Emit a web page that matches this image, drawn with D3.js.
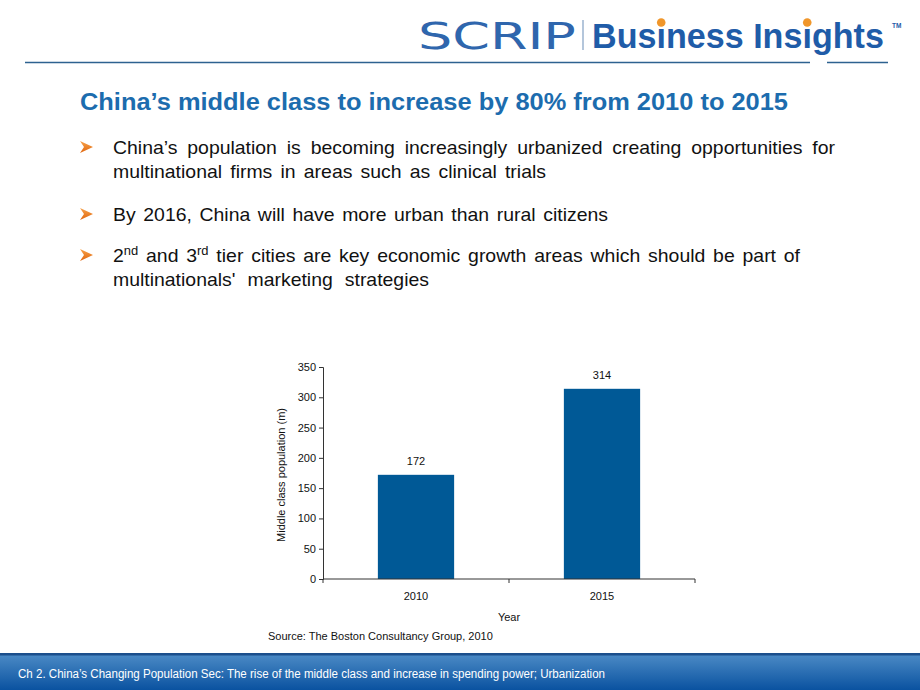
<!DOCTYPE html>
<html>
<head>
<meta charset="utf-8">
<script src="https://cdn.jsdelivr.net/npm/d3@7"></script>
<style>
  body { margin: 0; background: #fff; }
  svg { display: block; font-family: "Liberation Sans", Arial, sans-serif; }
</style>
</head>
<body>
<svg id="slide" width="920" height="690"></svg>
<script>
// chart data
const years = ['2010', '2015']
const population = [172, 314]
const yTicks = [0, 50, 100, 150, 200, 250, 300, 350]

const title = 'China\u2019s middle class to increase by 80% from 2010 to 2015'
const bullets = [
  ['China\u2019s population is becoming increasingly urbanized creating opportunities for',
   'multinational firms in areas such as clinical trials'],
  ['By 2016, China will have more urban than rural citizens'],
  ['2|nd| and 3|rd| tier cities are key economic growth areas which should be part of',
   'multinationals\' marketing strategies']
]
const source = 'Source: The Boston Consultancy Group, 2010'
const footer = 'Ch 2. China\u2019s Changing Population Sec: The rise of the middle class and increase in spending power; Urbanization'

const svg = d3.select('#slide')
const defs = svg.append('defs')

// squeeze/stretch a text to a given width with a transform (keeps bbox honest)
function fitText(sel, x0, y0, targetW) {
  const w = sel.node().getComputedTextLength()
  sel.attr('transform', `translate(${x0},${y0}) scale(${targetW / w},1)`)
  return sel
}

// ---- header / logo
fitText(svg.append('text')
  .style('font-family', '"DejaVu Sans", sans-serif')
  .style('font-size', '37px')
  .style('fill', '#2f66ad')
  .text('SCRIP'), 418, 49, 158)

svg.append('line')
  .attr('x1', 583).attr('x2', 583).attr('y1', 20).attr('y2', 50)
  .style('stroke', '#9bb3cf').style('stroke-width', 1.5)

const bi = fitText(svg.append('text')
  .style('font-size', '36px')
  .style('font-weight', 'bold')
  .style('fill', '#1f5ca8')
  .text('Business Insights'), 592, 48, 292)

// orange dots on the i's
const biNode = bi.node()
const biScale = 292 / biNode.getComputedTextLength()
;[3, 12].forEach(i => {
  const cx = biNode.getSubStringLength(0, i) + biNode.getSubStringLength(i, 1) / 2
  svg.append('circle')
    .attr('cx', 592 + cx * biScale)
    .attr('cy', 22.5)
    .attr('r', 4.3)
    .style('fill', '#f0962a')
})

svg.append('text')
  .attr('x', 892).attr('y', 28)
  .style('font-size', '6.5px').style('font-weight', 'bold')
  .style('fill', '#1f5ca8')
  .text('TM')

svg.append('line')
  .attr('x1', 25).attr('x2', 810).attr('y1', 62.5).attr('y2', 62.5)
  .style('stroke', '#2d6290').style('stroke-width', 1.3)
svg.append('line')
  .attr('x1', 827).attr('x2', 888).attr('y1', 62.5).attr('y2', 62.5)
  .style('stroke', '#2d6290').style('stroke-width', 1.3)

// ---- title
svg.append('text')
  .attr('x', 80).attr('y', 110)
  .attr('textLength', 708).attr('lengthAdjust', 'spacingAndGlyphs')
  .style('font-size', '23px')
  .style('font-weight', 'bold')
  .style('fill', '#1c6cae')
  .text(title)

// ---- bullets
const arrowGrad = defs.append('linearGradient')
  .attr('id', 'arrow-grad').attr('x1', '0%').attr('y1', '0%').attr('x2', '0%').attr('y2', '100%')
arrowGrad.append('stop').attr('offset', '0%').attr('stop-color', '#f7a24a')
arrowGrad.append('stop').attr('offset', '100%').attr('stop-color', '#e0660e')

const lineY = [[154, 178], [221], [262, 286]]
const lineEnd = [[835, 546], [608], [800, 429]]
const glyphScale = 1.08 // slide font renders a little wider than Liberation

bullets.forEach((lines, bi) => {
  const by = lineY[bi][0]
  svg.append('path')
    .attr('d', `M80,${by - 13} L93,${by - 7} L80,${by - 1} L84,${by - 7} Z`)
    .style('fill', 'url(#arrow-grad)')
  lines.forEach((ln, li) => {
    const t = svg.append('text')
      .attr('transform', `translate(113,${lineY[bi][li]}) scale(${glyphScale},1)`)
      .style('font-size', '18px')
      .style('fill', '#111')
    ln.split('|').forEach((part, pi) => {
      const ts = t.append('tspan').text(part)
      if (pi % 2 === 1) ts.attr('baseline-shift', '7').style('font-size', '12px')
    })
    // spread words so the line ends where it does on the slide
    const nSpaces = (ln.match(/ /g) || []).length
    const w = t.node().getComputedTextLength()
    const target = (lineEnd[bi][li] - 113) / glyphScale
    if (w > target) {
      t.attr('textLength', target).attr('lengthAdjust', 'spacingAndGlyphs')
    } else {
      t.style('word-spacing', ((target - w) / nSpaces) + 'px')
    }
  })
})

// ---- chart
const margin = { left: 323, right: 225, top: 367, bottom: 111 }
const width = 920 - margin.left - margin.right
const height = 690 - margin.top - margin.bottom

const g = svg.append('g')
  .attr('transform', `translate(${margin.left},${margin.top})`)

const x = d3.scaleBand()
  .domain(years)
  .range([0, width])
  .paddingInner(0.59)
  .paddingOuter(0.295)

const y = d3.scaleLinear()
  .domain([0, 350])
  .range([height, 0])

g.selectAll('.bar')
  .data(population)
  .enter().append('rect')
  .attr('class', 'bar')
  .attr('x', (d, i) => x(years[i]))
  .attr('y', d => y(d))
  .attr('width', x.bandwidth())
  .attr('height', d => height - y(d))
  .style('fill', '#005996')

g.selectAll('.val')
  .data(population)
  .enter().append('text')
  .attr('class', 'val')
  .attr('x', (d, i) => x(years[i]) + x.bandwidth() / 2)
  .attr('y', d => y(d) - 10)
  .attr('text-anchor', 'middle')
  .style('font-size', '11px')
  .style('fill', '#111')
  .text(d => d)

const yAxis = g.append('g')
  .call(d3.axisLeft(y).tickValues(yTicks).tickSize(4).tickPadding(3))
yAxis.selectAll('text').style('font-size', '11px').style('fill', '#111')
  .style('font-family', '"Liberation Sans", Arial, sans-serif')
yAxis.selectAll('line, path').style('stroke', '#333')

// x axis: ticks at band edges, labels centred in bands
const xAxis = g.append('g').attr('transform', `translate(0,${height})`)
xAxis.append('line')
  .attr('x1', 0).attr('x2', width)
  .style('stroke', '#333')
const step = x.step()
const edges = d3.range(years.length + 1).map(i => x(years[0]) - x.step() * x.paddingOuter() + i * step)
xAxis.selectAll('.edge')
  .data(edges)
  .enter().append('line')
  .attr('x1', d => d).attr('x2', d => d)
  .attr('y1', 0).attr('y2', 4)
  .style('stroke', '#333')
xAxis.selectAll('.lab')
  .data(years)
  .enter().append('text')
  .attr('x', d => x(d) + x.bandwidth() / 2)
  .attr('y', 21)
  .attr('text-anchor', 'middle')
  .style('font-size', '11px')
  .style('fill', '#111')
  .text(d => d)

g.append('text')
  .attr('x', width / 2)
  .attr('y', height + 42)
  .attr('text-anchor', 'middle')
  .style('font-size', '11px')
  .style('fill', '#111')
  .text('Year')

g.append('text')
  .attr('transform', `translate(-38,${height / 2 + 2}) rotate(-90)`)
  .attr('text-anchor', 'middle')
  .style('font-size', '11px')
  .style('fill', '#111')
  .text('Middle class population (m)')

svg.append('text')
  .attr('x', 268).attr('y', 640)
  .style('font-size', '11px')
  .style('fill', '#111')
  .text(source)

// ---- footer bar
const footGrad = defs.append('linearGradient')
  .attr('id', 'foot-grad').attr('x1', '0%').attr('y1', '0%').attr('x2', '0%').attr('y2', '100%')
footGrad.append('stop').attr('offset', '0%').attr('stop-color', '#4c8bc6')
footGrad.append('stop').attr('offset', '100%').attr('stop-color', '#0a52a0')

svg.append('rect')
  .attr('x', 0).attr('y', 654).attr('width', 920).attr('height', 36)
  .style('fill', 'url(#foot-grad)')
svg.append('rect')
  .attr('x', 0).attr('y', 653).attr('width', 920).attr('height', 2.5)
  .style('fill', '#1b4f8c')

svg.append('text')
  .attr('x', 18).attr('y', 678)
  .attr('textLength', 587).attr('lengthAdjust', 'spacingAndGlyphs')
  .style('font-size', '12px')
  .style('fill', '#fff')
  .text(footer)
</script>
</body>
</html>
